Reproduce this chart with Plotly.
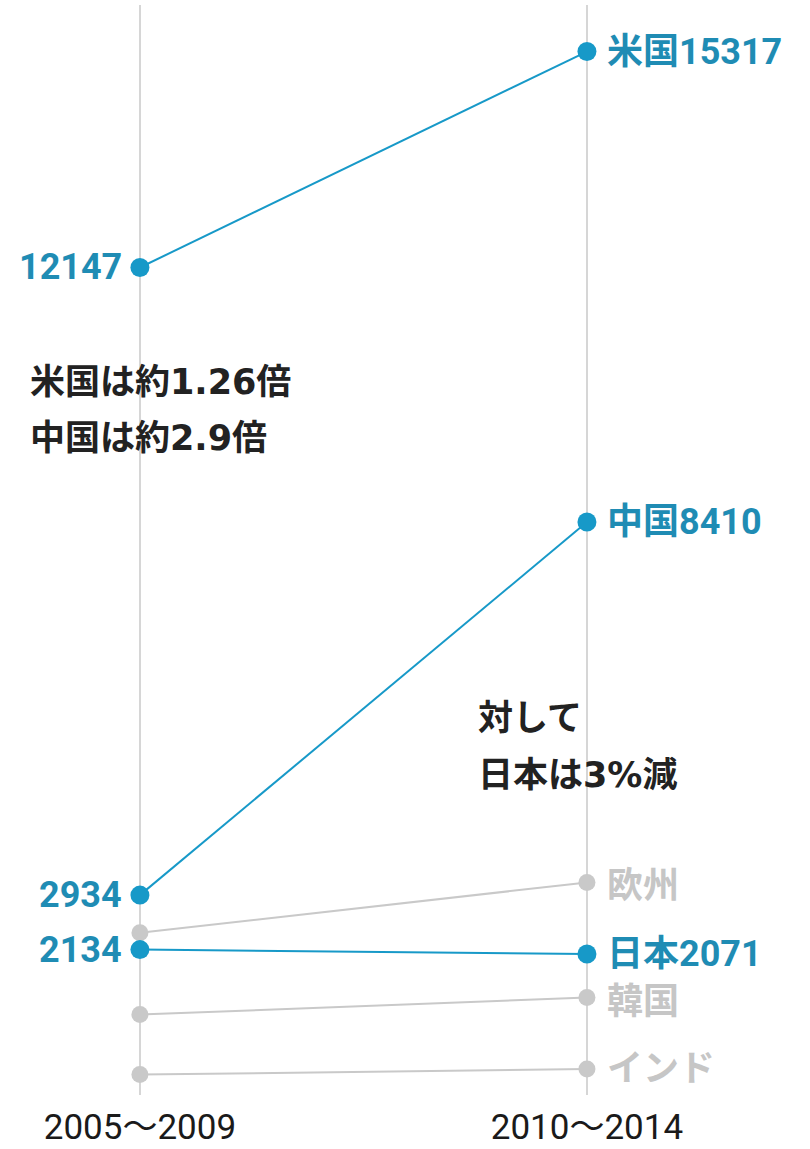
import plotly.graph_objects as go

# Two periods compared
periods = ["2005～2009", "2010～2014"]

# Highlighted series (blue)
highlight_names = ["米国", "中国", "日本"]
usa = [12147, 15317]
china = [2934, 8410]
japan = [2134, 2071]

# Background series (gray)
muted_names = ["欧州", "韓国", "インド"]
europe = [2380, 3120]
korea = [1180, 1430]
india = [300, 380]

BLUE = "#1799c8"
BLUE_TEXT = "#1f8cb4"
GRAY = "#c9c9c9"
GRAY_TEXT = "#c6c6c6"
GRID = "#d6d6d6"
CJK = "Noto Sans CJK JP"
LABEL_FONT = "Roboto, Noto Sans CJK JP, sans-serif"

W, H = 810, 1149
M_T, M_B = 5, 54

fig = go.Figure()

muted = [europe, korea, india]
highlight = [usa, china, japan]

for name, vals in zip(muted_names, muted):
    fig.add_trace(go.Scatter(
        x=periods, y=vals, mode="lines+markers", name=name,
        line=dict(color=GRAY, width=2),
        marker=dict(color=GRAY, size=17),
        hoverinfo="skip", showlegend=False,
    ))

for name, vals in zip(highlight_names, highlight):
    fig.add_trace(go.Scatter(
        x=periods, y=vals, mode="lines+markers", name=name,
        line=dict(color=BLUE, width=2),
        marker=dict(color=BLUE, size=19),
        hoverinfo="skip", showlegend=False,
    ))

annotations = []

# Left-side values for highlighted series
for vals in highlight:
    annotations.append(dict(
        x=periods[0], y=vals[0], xref="x", yref="y",
        text=f"{vals[0]}", showarrow=False,
        xanchor="right", yanchor="middle", xshift=-16,
        font=dict(family=LABEL_FONT, size=36, color=BLUE_TEXT, weight="bold"),
    ))

# Right-side name + value for highlighted series
for name, vals in zip(highlight_names, highlight):
    annotations.append(dict(
        x=periods[1], y=vals[1], xref="x", yref="y",
        text=f"{name}{vals[1]}", showarrow=False,
        xanchor="left", yanchor="middle", xshift=18,
        font=dict(family=LABEL_FONT, size=36, color=BLUE_TEXT, weight="bold"),
    ))

# Right-side names for muted series
for name, vals in zip(muted_names, muted):
    annotations.append(dict(
        x=periods[1], y=vals[1], xref="x", yref="y",
        text=name, showarrow=False,
        xanchor="left", yanchor="middle", xshift=18,
        yshift=4 if name == "インド" else 0,
        font=dict(family=CJK, size=36, color=GRAY_TEXT, weight="bold"),
    ))


def py(pixel_y):
    """Convert a pixel row to paper y."""
    return (H - M_B - pixel_y) / (H - M_T - M_B)


notes = [
    ("米国は約1.26倍", 28, 382),
    ("中国は約2.9倍", 28, 438),
    ("対して", 476, 718),
    ("日本は3%減", 476, 775),
]
for text, px, pyy in notes:
    annotations.append(dict(
        x=px / W, y=py(pyy), xref="paper", yref="paper",
        text=text, showarrow=False, xanchor="left", yanchor="middle",
        font=dict(family="DejaVu Sans, Noto Sans CJK JP, sans-serif", size=35,
                  color="#222222", weight="bold"),
    ))

fig.update_layout(
    width=W, height=H,
    margin=dict(l=0, r=0, t=M_T, b=M_B),
    paper_bgcolor="white", plot_bgcolor="white",
    annotations=annotations,
    xaxis=dict(
        type="category", range=[-0.313, 1.499],
        showgrid=True, gridcolor=GRID, gridwidth=2,
        zeroline=False, showline=False, ticks="",
        tickfont=dict(family="Roboto, Noto Sans CJK JP, sans-serif", size=35, color="#1a1a1a"),
        ticklabelstandoff=8,
    ),
    yaxis=dict(
        range=[0, 16000], showgrid=False, zeroline=False,
        showticklabels=False, ticks="", showline=False,
    ),
)

fig.write_html("out.html")
